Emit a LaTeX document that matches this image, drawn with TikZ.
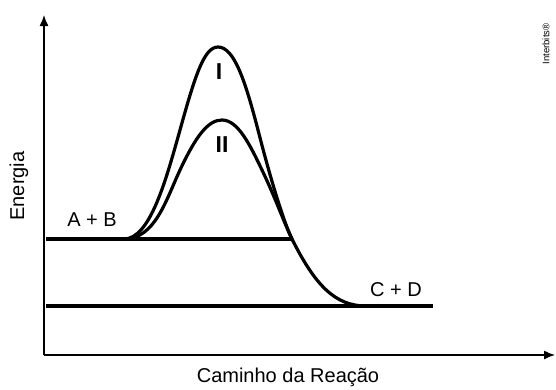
\documentclass[tikz,border=0pt]{standalone}
\usepackage{fontspec}
\setmainfont{Liberation Sans}
\usetikzlibrary{arrows.meta,positioning}
\newcommand{\lblfont}{\fontsize{20}{23}\selectfont}
\tikzset{
  axisline/.style={-{Latex[length=11pt,width=9pt]}, line width=1.3pt},
  levelline/.style={line width=3.2pt},
  pathcurve/.style={line width=3.2pt, line join=round, line cap=round},
  chemlabel/.style={font=\lblfont, inner sep=0pt},
  pathlabel/.style={font=\fontsize{23}{26}\selectfont\bfseries, inner sep=0pt},
}

\begin{document}
\begin{tikzpicture}[x=1pt,y=-1pt]
  \useasboundingbox (0,0) rectangle (556,389);
  % axes
  \coordinate (origin) at (44,355);
  \coordinate (ytip) at (44,15);
  \coordinate (xtip) at (555,355);
  \draw[axisline] (origin) -- (ytip);
  \draw[axisline] (origin) -- (xtip);
  \node[chemlabel, rotate=90] (energy) at (19,186) {Energia};
  \node[chemlabel] (course) at (288,377) {Caminho da Reação};
  % energy levels
  \coordinate (reacL) at (46,239);
  \coordinate (reacR) at (292,239);
  \coordinate (prodL) at (46,306);
  \coordinate (prodR) at (433,306);
  \draw[levelline] (reacL) -- (reacR);
  \draw[levelline] (prodL) -- (prodR);
  \node[chemlabel] (reac) at (92,220) {A + B};
  \node[chemlabel] (prod) at (396,290) {C + D};
  % reaction paths
  \coordinate (foot) at (124,239);
  \coordinate (end) at (366,306);
  \draw[pathcurve] (foot) .. controls (150,239) and (166,180) .. (180,130)
    .. controls (195,76) and (204,47) .. (218,47)
    .. controls (234,47) and (245,80) .. (258,130)
    .. controls (272,185) and (285,225) .. (reacR)
    .. controls (315,285) and (335,306) .. (end);
  \draw[pathcurve] (foot) .. controls (155,239) and (166,200) .. (180,170)
    .. controls (196,136) and (208,120) .. (222,120)
    .. controls (238,120) and (250,145) .. (262,170)
    .. controls (275,197) and (285,225) .. (reacR);
  \node[pathlabel] (one) at (219,72) {I};
  \node[pathlabel] (two) at (222,145) {II};
  \node[font=\fontsize{9.5}{11}\selectfont, rotate=90, inner sep=0pt] (mark) at (546,44) {Interbits®};
\end{tikzpicture}
\end{document}
